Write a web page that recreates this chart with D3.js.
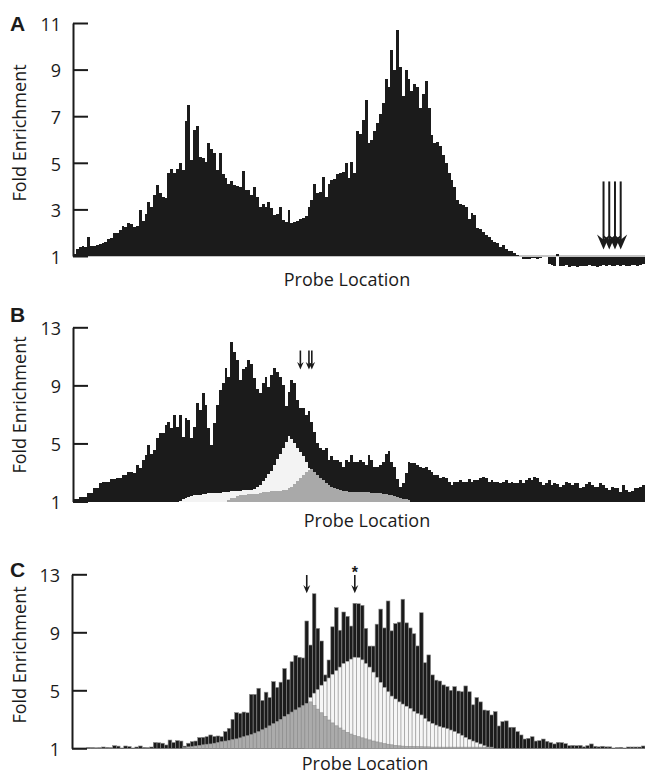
<!DOCTYPE html>
<html>
<head>
<meta charset="utf-8">
<script src="https://cdn.jsdelivr.net/npm/d3@7"></script>
<style>
  body { margin: 0; background: #fff; }
  svg { display: block; }
</style>
</head>
<body>
<div id="chart"></div>
<script>
// Panel A: fold enrichment per probe (values below 1 hang under the baseline)
const enrichA = [
  1.09, 1.3, 1.4, 1.42, 1.38, 1.83, 1.45, 1.43, 1.47, 1.52,
  1.55, 1.6, 1.75, 1.78, 1.97, 2.0, 2.1, 2.3, 2.25, 2.4,
  2.38, 2.25, 2.3, 2.97, 2.5, 2.8, 3.3, 3.1, 3.6, 4.05,
  3.7, 3.55, 3.5, 4.55, 4.75, 4.55, 4.75, 4.97, 4.7, 6.8,
  7.47, 5.1, 6.4, 6.6, 5.25, 5.2, 5.05, 5.85, 5.6, 5.4,
  4.7, 5.4, 4.5, 4.35, 4.1, 4.2, 4.05, 4.0, 3.95, 4.65,
  3.85, 3.85, 3.6, 3.95, 3.55, 3.1, 3.25, 3.1, 3.3, 3.05,
  2.75, 2.8, 3.1, 2.55, 2.47, 2.97, 2.43, 2.45, 2.52, 2.6,
  2.65, 2.7, 3.1, 3.4, 4.1, 3.7, 3.75, 4.4, 3.55, 4.1,
  4.25, 4.3, 4.5, 4.55, 4.6, 4.97, 4.35, 5.05, 4.55, 6.35,
  6.25, 6.85, 7.7, 5.85, 6.0, 6.35, 6.7, 7.1, 7.55, 8.6,
  8.25, 9.85, 9.0, 10.7, 9.1, 7.85, 9.0, 8.6, 8.1, 8.4,
  8.25, 7.35, 7.95, 8.5, 7.35, 6.2, 5.85, 5.9, 5.7, 5.35,
  4.97, 4.55, 4.25, 3.95, 3.4, 3.25, 3.2, 3.1, 2.6, 2.85,
  2.75, 2.2, 2.15, 2.05, 1.9, 1.83, 1.7, 1.6, 1.55, 1.4,
  1.47, 1.3, 1.23, 1.2, 1.12, 1.05, 1.02, 0.92, 0.9, 0.91,
  0.97, 0.94, 0.93, 0.95, 1.0, 1.0, 0.69, 0.66, 0.62, 1.08,
  0.62, 0.6, 0.64, 0.58, 0.62, 0.6, 0.57, 0.63, 0.6, 0.62,
  0.66, 0.6, 0.63, 0.58, 0.62, 0.65, 0.6, 0.64, 0.61, 0.63,
  0.67, 0.62, 0.65, 0.6, 0.63, 0.66, 0.64, 0.62, 0.65, 0.68
];

// Panel B: total signal and the two overlaid components
const enrichB = [
  1.2, 1.2, 1.33, 1.33, 1.33, 1.56, 1.56, 1.9, 1.9, 2.25,
  2.37, 2.37, 2.37, 2.53, 2.53, 2.6, 2.6, 2.83, 2.83, 3.0,
  3.0, 2.95, 3.5, 3.3, 3.86, 4.2, 4.9, 4.3, 4.55, 5.35,
  5.7, 5.7, 6.28, 6.5, 6.05, 6.97, 6.16, 6.97, 5.47, 6.74,
  6.6, 5.35, 6.16, 7.77, 7.3, 8.46, 7.65, 6.05, 4.9, 6.4,
  7.65, 8.7, 9.15, 10.18, 9.6, 12.0, 11.3, 10.75, 9.38, 10.1,
  10.25, 10.75, 10.5, 9.5, 8.74, 8.46, 9.15, 9.6, 8.9, 9.7,
  10.18, 9.9, 9.6, 9.0, 7.55, 8.57, 9.38, 9.15, 8.0, 7.43,
  7.43, 6.97, 7.2, 6.5, 5.82, 5.0, 4.67, 4.55, 4.67, 3.86,
  4.1, 3.86, 3.86, 3.75, 3.4, 3.86, 3.75, 4.2, 3.75, 3.75,
  3.86, 3.75, 3.5, 4.2, 3.86, 3.4, 3.4, 3.5, 3.75, 4.3,
  4.5, 3.75, 3.4, 2.53, 2.0, 2.25, 2.95, 3.75, 3.63, 3.63,
  3.5, 3.4, 3.3, 3.4, 3.17, 3.05, 2.83, 2.83, 2.6, 2.67,
  2.6, 2.37, 2.14, 2.37, 2.37, 2.48, 2.37, 2.37, 2.53, 2.37,
  2.48, 2.48, 2.6, 2.71, 2.6, 2.37, 2.48, 2.37, 2.37, 2.25,
  2.37, 2.48, 2.3, 2.37, 2.25, 2.25, 2.48, 2.3, 2.48, 2.6,
  2.48, 2.71, 2.6, 2.37, 2.14, 2.3, 2.48, 2.14, 2.25, 2.2,
  2.0, 2.14, 2.37, 2.3, 2.14, 2.25, 2.25, 1.9, 2.0, 2.2,
  2.37, 2.14, 2.0, 2.0, 2.25, 2.14, 1.9, 1.8, 2.0, 1.9,
  1.9, 1.68, 2.14, 1.8, 1.68, 1.75, 1.9, 1.9, 2.0, 2.14
];
const lightB = [
  1, 1, 1, 1, 1, 1, 1, 1, 1, 1,
  1, 1, 1, 1, 1, 1, 1, 1, 1, 1,
  1, 1, 1, 1, 1, 1, 1, 1, 1, 1,
  1, 1, 1, 1, 1, 1, 1, 1.05, 1.15, 1.25,
  1.33, 1.38, 1.45, 1.45, 1.47, 1.5, 1.5, 1.56, 1.56, 1.58,
  1.6, 1.6, 1.62, 1.65, 1.68, 1.7, 1.7, 1.72, 1.75, 1.78,
  1.8, 1.8, 1.82, 1.85, 2.0, 2.14, 2.4, 2.6, 2.9, 3.1,
  3.5, 3.9, 4.3, 4.7, 5.13, 5.5, 5.3, 5.0, 4.7, 4.4,
  4.1, 3.7, 3.3, 3.0, 2.7, 2.4, 2.15, 1.95, 1.8, 1.65,
  1.5, 1.35, 1.2, 1, 1, 1, 1, 1, 1, 1,
  1, 1, 1, 1, 1, 1, 1, 1, 1, 1,
  1, 1, 1, 1, 1, 1, 1, 1, 1, 1,
  1, 1, 1, 1, 1, 1, 1, 1, 1, 1,
  1, 1, 1, 1, 1, 1, 1, 1, 1, 1,
  1, 1, 1, 1, 1, 1, 1, 1, 1, 1,
  1, 1, 1, 1, 1, 1, 1, 1, 1, 1,
  1, 1, 1, 1, 1, 1, 1, 1, 1, 1,
  1, 1, 1, 1, 1, 1, 1, 1, 1, 1,
  1, 1, 1, 1, 1, 1, 1, 1, 1, 1,
  1, 1, 1, 1, 1, 1, 1, 1, 1, 1
];
const grayB = [
  1, 1, 1, 1, 1, 1, 1, 1, 1, 1,
  1, 1, 1, 1, 1, 1, 1, 1, 1, 1,
  1, 1, 1, 1, 1, 1, 1, 1, 1, 1,
  1, 1, 1, 1, 1, 1, 1, 1, 1, 1,
  1, 1, 1, 1, 1, 1, 1, 1, 1, 1,
  1, 1, 1, 1, 1.1, 1.22, 1.25, 1.35, 1.45, 1.45,
  1.48, 1.5, 1.5, 1.52, 1.55, 1.6, 1.65, 1.68, 1.68, 1.7,
  1.7, 1.72, 1.75, 1.78, 1.8, 1.9, 2.0, 2.2, 2.4, 2.6,
  2.8, 3.0, 3.2, 3.25, 3.0, 2.8, 2.6, 2.45, 2.3, 2.15,
  2.0, 1.9, 1.85, 1.8, 1.72, 1.7, 1.68, 1.68, 1.67, 1.66,
  1.65, 1.64, 1.63, 1.62, 1.6, 1.6, 1.58, 1.57, 1.55, 1.5,
  1.45, 1.42, 1.38, 1.3, 1.25, 1.2, 1.15, 1.08, 1, 1,
  1, 1, 1, 1, 1, 1, 1, 1, 1, 1,
  1, 1, 1, 1, 1, 1, 1, 1, 1, 1,
  1, 1, 1, 1, 1, 1, 1, 1, 1, 1,
  1, 1, 1, 1, 1, 1, 1, 1, 1, 1,
  1, 1, 1, 1, 1, 1, 1, 1, 1, 1,
  1, 1, 1, 1, 1, 1, 1, 1, 1, 1,
  1, 1, 1, 1, 1, 1, 1, 1, 1, 1,
  1, 1, 1, 1, 1, 1, 1, 1, 1, 1
];

// Panel C: wider bins
const enrichC = [
  1.0, 1.0, 1.0, 1.0, 1.06, 1.05, 1.03, 1.04, 1.09, 1.06,
  1.04, 1.18, 1.15, 1.0, 1.16, 1.12, 1.0, 1.09, 1.16, 1.06,
  1.04, 1.09, 1.4, 1.38, 1.35, 1.23, 1.57, 1.4, 1.53, 1.5,
  1.15, 1.35, 1.46, 1.5, 1.74, 1.76, 1.8, 1.92, 1.82, 1.85,
  1.8, 2.15, 2.38, 3.0, 3.46, 3.4, 3.5, 3.45, 4.72, 4.72,
  5.14, 4.3, 4.87, 4.5, 5.6, 5.2, 5.56, 6.5, 5.73, 6.97,
  7.4, 7.28, 7.23, 9.78, 8.12, 11.66, 9.27, 8.4, 6.06, 7.09,
  9.38, 10.7, 9.14, 10.4, 10.1, 9.43, 11.0, 10.97, 10.86, 9.27,
  8.05, 8.05, 9.56, 10.6, 9.3, 11.16, 9.1, 9.6, 9.7, 11.28,
  9.65, 9.3, 8.9, 8.06, 10.35, 6.9, 7.44, 6.06, 5.7, 5.64,
  5.37, 5.25, 5.0, 5.25, 4.95, 4.9, 5.3, 4.9, 4.0, 4.5,
  4.2, 3.64, 3.6, 3.3, 3.53, 2.54, 2.84, 2.89, 2.45, 2.45,
  2.15, 1.92, 1.64, 1.69, 1.8, 1.5, 1.53, 1.64, 1.48, 1.39,
  1.3, 1.41, 1.39, 1.32, 1.18, 1.2, 1.18, 1.2, 1.1, 1.18,
  1.3, 1.14, 1.1, 1.14, 1.1, 1.1, 1.0, 1.05, 1.07, 1.0,
  1.09, 1.09, 1.09, 1.09, 1.16
];
const lightC = [
  1, 1, 1, 1, 1, 1, 1, 1, 1, 1,
  1, 1, 1, 1, 1, 1, 1, 1, 1, 1,
  1, 1, 1, 1, 1, 1, 1, 1, 1, 1,
  1, 1, 1, 1, 1, 1, 1, 1, 1, 1,
  1, 1, 1, 1, 1, 1, 1, 1, 1, 1,
  1, 1, 1, 1, 1, 1, 1, 1, 1, 1,
  1, 1, 1, 3.9, 4.5, 4.8, 5.05, 5.35, 5.6, 5.85,
  6.1, 6.35, 6.6, 6.85, 7.0, 7.15, 7.28, 7.25, 7.1, 6.85,
  6.6, 6.25, 5.9, 5.55, 5.2, 4.9, 4.6, 4.4, 4.2, 4.05,
  3.9, 3.75, 3.55, 3.4, 3.3, 3.05, 2.85, 2.72, 2.6, 2.5,
  2.42, 2.35, 2.26, 2.15, 2.02, 1.9, 1.75, 1.62, 1.5, 1.4,
  1.3, 1.18, 1.08, 1, 1, 1, 1, 1, 1, 1,
  1, 1, 1, 1, 1, 1, 1, 1, 1, 1,
  1, 1, 1, 1, 1, 1, 1, 1, 1, 1,
  1, 1, 1, 1, 1, 1, 1, 1, 1, 1,
  1, 1, 1, 1, 1
];
const grayC = [
  1, 1, 1, 1, 1, 1, 1, 1, 1, 1,
  1, 1, 1, 1, 1, 1, 1, 1, 1, 1,
  1, 1, 1, 1, 1, 1, 1, 1, 1, 1,
  1.05, 1.1, 1.12, 1.16, 1.2, 1.24, 1.28, 1.3, 1.35, 1.4,
  1.46, 1.5, 1.55, 1.6, 1.65, 1.72, 1.8, 1.87, 1.95, 2.05,
  2.15, 2.28, 2.4, 2.55, 2.7, 2.85, 3.0, 3.2, 3.35, 3.5,
  3.65, 3.8, 3.95, 4.1, 4.2, 3.95, 3.7, 3.45, 3.2, 2.95,
  2.75, 2.55, 2.4, 2.25, 2.1, 1.98, 1.88, 1.8, 1.72, 1.65,
  1.58, 1.5, 1.44, 1.38, 1.32, 1.28, 1.24, 1.2, 1.17, 1.15,
  1.14, 1.13, 1.12, 1.12, 1.11, 1.1, 1.1, 1.08, 1.08, 1.08,
  1.08, 1.08, 1.08, 1.08, 1.08, 1.08, 1.08, 1.08, 1.08, 1.08,
  1.08, 1.08, 1.08, 1.08, 1, 1, 1, 1, 1, 1,
  1, 1, 1, 1, 1, 1, 1, 1, 1, 1,
  1, 1, 1, 1, 1, 1, 1, 1, 1, 1,
  1, 1, 1, 1, 1, 1, 1, 1, 1, 1,
  1, 1, 1, 1, 1
];

const ticksA = [1, 3, 5, 7, 9, 11];
const ticksBC = [1, 5, 9, 13];

// arrows: bar index they point at, shaft from/to in fold-enrichment units
const arrowsA = [{ bar: 185, from: 4.2, to: 1.28 }, { bar: 187, from: 4.2, to: 1.28 },
                 { bar: 189, from: 4.2, to: 1.28 }, { bar: 191, from: 4.2, to: 1.28 }];
const arrowsB = [{ bar: 79, from: 11.4, to: 10.1 }, { bar: 82, from: 11.4, to: 10.1 },
                 { bar: 83, from: 11.4, to: 10.1 }];
const arrowsC = [{ bar: 63, from: 12.95, to: 11.7 }, { bar: 76, from: 12.95, to: 11.7, star: true }];

const width = 645;
const height = 775;
const ink = "#1b1b1b";
const font = "'Open Sans', 'DejaVu Sans', sans-serif";

const svg = d3.select("#chart")
    .append("svg")
    .attr("width", width)
    .attr("height", height);

function drawPanel(p) {
    const g = svg.append("g");

    const x = d3.scaleBand()
        .domain(d3.range(p.series[0].values.length))
        .range([p.left, width]);

    const y = d3.scaleLinear()
        .domain([1, p.ticks[p.ticks.length - 1]])
        .range([p.bottom, p.top]);

    // baseline at fold enrichment 1
    g.append("line")
        .attr("x1", p.left).attr("x2", width)
        .attr("y1", y(1)).attr("y2", y(1))
        .attr("stroke", p.baseColor)
        .attr("stroke-width", 1);

    // bars: each series overlaid on the previous one
    p.series.forEach(s => {
        g.append("g")
            .selectAll("rect")
            .data(s.values.map((v, i) => ({ v, i })).filter(d => d.v !== 1))
            .enter()
            .append("rect")
            .attr("x", d => x(d.i))
            .attr("width", x.bandwidth())
            .attr("y", d => d.v > 1 ? y(d.v) : y(1) + 1)
            .attr("height", d => d.v > 1 ? y(1) - y(d.v) : y(d.v) - y(1))
            .attr("fill", s.fill)
            .attr("stroke", p.outline ? s.stroke : "none")
            .attr("stroke-width", p.outline ? 0.6 : 0)
            .style("shape-rendering", p.outline ? "auto" : "crispEdges");
    });

    // y axis with inward ticks
    const yAxis = d3.axisLeft(y)
        .tickValues(p.ticks)
        .tickSize(-15)
        .tickSizeOuter(0)
        .tickPadding(12)
        .tickFormat(d3.format("d"));

    const ax = g.append("g")
        .attr("transform", `translate(${p.left},0)`)
        .call(yAxis);
    ax.select(".domain").attr("stroke", ink).attr("stroke-width", 2);
    ax.selectAll(".tick line").attr("stroke", ink).attr("stroke-width", 2);
    ax.selectAll(".tick text")
        .attr("dy", "0.4em")
        .style("fill", ink)
        .style("font-family", font)
        .style("font-size", "18px");

    // arrows
    p.arrows.forEach(a => {
        const cx = x(a.bar) + x.bandwidth() / 2;
        const y0 = y(a.from), y1 = y(a.to);
        g.append("line")
            .attr("x1", cx).attr("x2", cx)
            .attr("y1", y0).attr("y2", y1 - p.head * 0.6)
            .attr("stroke", ink)
            .attr("stroke-width", p.shaft);
        g.append("path")
            .attr("d", `M${cx - p.head / 2},${y1 - p.head * 1.15} L${cx},${y1 - p.head * 0.75} L${cx + p.head / 2},${y1 - p.head * 1.15} L${cx},${y1} Z`)
            .attr("fill", ink);
        if (a.star) {
            g.append("text")
                .attr("x", cx)
                .attr("y", y0 + 3)
                .style("text-anchor", "middle")
                .style("font-family", "'Liberation Sans', Arial, sans-serif")
                .style("font-weight", "bold")
                .style("font-size", "16px")
                .style("fill", ink)
                .text("*");
        }
    });

    // axis labels and panel letter
    g.append("text")
        .attr("transform", `translate(26,${p.labelY}) rotate(-90)`)
        .style("text-anchor", "middle")
        .style("font-family", font)
        .style("font-size", "18px")
        .style("fill", ink)
        .text("Fold Enrichment");

    g.append("text")
        .attr("x", p.xLabelX)
        .attr("y", p.xLabelY)
        .style("text-anchor", "middle")
        .style("font-family", font)
        .style("font-size", "18px")
        .style("fill", ink)
        .text("Probe Location");

    g.append("text")
        .attr("x", 10)
        .attr("y", p.letterY)
        .style("font-family", "'Liberation Sans', Arial, sans-serif")
        .style("font-weight", "bold")
        .style("font-size", "21px")
        .style("fill", ink)
        .text(p.letter);
}

drawPanel({
    letter: "A", letterY: 31,
    series: [{ values: enrichA, fill: ink }],
    ticks: ticksA, left: 73, top: 23, bottom: 256,
    baseColor: "#8a8a8a", outline: false,
    arrows: arrowsA, head: 13, shaft: 2,
    labelY: 133, xLabelX: 347, xLabelY: 286
});

drawPanel({
    letter: "B", letterY: 322,
    series: [
        { values: enrichB, fill: ink },
        { values: lightB, fill: "#f3f3f3" },
        { values: grayB, fill: "#a9a9a9" }
    ],
    ticks: ticksBC, left: 73, top: 327.3, bottom: 501.5,
    baseColor: "#8a8a8a", outline: false,
    arrows: arrowsB, head: 6.5, shaft: 1.6,
    labelY: 405, xLabelX: 367, xLabelY: 527
});

drawPanel({
    letter: "C", letterY: 577,
    series: [
        { values: enrichC, fill: ink, stroke: "#8c8c8c" },
        { values: lightC, fill: "#f6f6f6", stroke: "#9c9c9c" },
        { values: grayC, fill: "#ababab", stroke: "#8f8f8f" }
    ],
    ticks: ticksBC, left: 72, top: 574.3, bottom: 748.3,
    baseColor: "#444", outline: true,
    arrows: arrowsC, head: 7, shaft: 1.6,
    labelY: 655, xLabelX: 365, xLabelY: 770
});
</script>
</body>
</html>
